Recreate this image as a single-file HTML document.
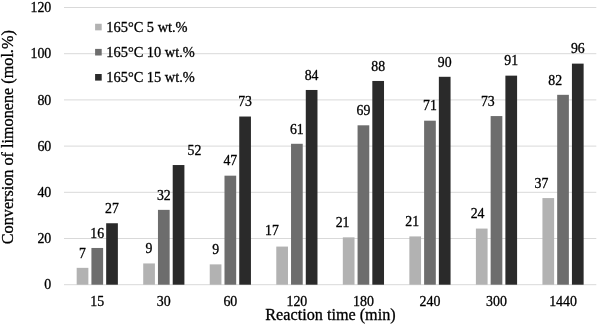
<!DOCTYPE html>
<html><head><meta charset="utf-8"><title>chart</title>
<style>
html,body{margin:0;padding:0;background:#fff;}
body{width:600px;height:324px;overflow:hidden;}
svg{display:block;filter:grayscale(1);}
text{font-family:"Liberation Serif",serif;fill:#000;stroke:#000;stroke-width:0.3px;stroke-linejoin:round;}
</style></head><body>
<svg width="600" height="324" viewBox="0 0 600 324">
<rect x="0" y="0" width="600" height="324" fill="#ffffff"/>
<line x1="64.00" x2="596.30" y1="284.70" y2="284.70" stroke="#d9d9d9" stroke-width="1"/>
<text x="51.3" y="289.40" font-size="13.9" text-anchor="end">0</text>
<line x1="64.00" x2="596.30" y1="238.50" y2="238.50" stroke="#d9d9d9" stroke-width="1"/>
<text x="51.3" y="243.20" font-size="13.9" text-anchor="end">20</text>
<line x1="64.00" x2="596.30" y1="192.30" y2="192.30" stroke="#d9d9d9" stroke-width="1"/>
<text x="51.3" y="197.00" font-size="13.9" text-anchor="end">40</text>
<line x1="64.00" x2="596.30" y1="146.10" y2="146.10" stroke="#d9d9d9" stroke-width="1"/>
<text x="51.3" y="150.80" font-size="13.9" text-anchor="end">60</text>
<line x1="64.00" x2="596.30" y1="99.90" y2="99.90" stroke="#d9d9d9" stroke-width="1"/>
<text x="51.3" y="104.60" font-size="13.9" text-anchor="end">80</text>
<line x1="64.00" x2="596.30" y1="53.70" y2="53.70" stroke="#d9d9d9" stroke-width="1"/>
<text x="51.3" y="58.40" font-size="13.9" text-anchor="end">100</text>
<line x1="64.00" x2="596.30" y1="7.50" y2="7.50" stroke="#d9d9d9" stroke-width="1"/>
<text x="51.3" y="12.20" font-size="13.9" text-anchor="end">120</text>
<rect x="76.67" y="267.84" width="11.70" height="16.86" fill="#b2b2b2"/>
<text x="82.52" y="257.64" font-size="13.8" text-anchor="middle">7</text>
<rect x="91.42" y="247.97" width="11.70" height="36.73" fill="#6d6d6d"/>
<text x="97.27" y="237.77" font-size="13.8" text-anchor="middle">16</text>
<rect x="106.17" y="223.25" width="11.70" height="61.45" fill="#2a2a2a"/>
<text x="112.02" y="213.05" font-size="13.8" text-anchor="middle">27</text>
<text x="97.27" y="306.4" font-size="13.9" text-anchor="middle">15</text>
<rect x="143.21" y="263.45" width="11.70" height="21.25" fill="#b2b2b2"/>
<text x="149.06" y="253.25" font-size="13.8" text-anchor="middle">9</text>
<rect x="157.96" y="209.86" width="11.70" height="74.84" fill="#6d6d6d"/>
<text x="163.81" y="199.66" font-size="13.8" text-anchor="middle">32</text>
<rect x="172.71" y="165.04" width="11.70" height="119.66" fill="#2a2a2a"/>
<text x="194.46" y="154.84" font-size="13.8" text-anchor="middle">52</text>
<text x="163.81" y="306.4" font-size="13.9" text-anchor="middle">30</text>
<rect x="209.74" y="264.37" width="11.70" height="20.33" fill="#b2b2b2"/>
<text x="215.59" y="254.17" font-size="13.8" text-anchor="middle">9</text>
<rect x="224.49" y="175.67" width="11.70" height="109.03" fill="#6d6d6d"/>
<text x="230.34" y="165.47" font-size="13.8" text-anchor="middle">47</text>
<rect x="239.24" y="116.53" width="11.70" height="168.17" fill="#2a2a2a"/>
<text x="245.09" y="106.33" font-size="13.8" text-anchor="middle">73</text>
<text x="230.34" y="306.4" font-size="13.9" text-anchor="middle">60</text>
<rect x="276.28" y="246.58" width="11.70" height="38.12" fill="#b2b2b2"/>
<text x="271.93" y="235.19" font-size="13.8" text-anchor="middle">17</text>
<rect x="291.03" y="143.79" width="11.70" height="140.91" fill="#6d6d6d"/>
<text x="296.88" y="133.59" font-size="13.8" text-anchor="middle">61</text>
<rect x="305.78" y="89.97" width="11.70" height="194.73" fill="#2a2a2a"/>
<text x="311.63" y="79.77" font-size="13.8" text-anchor="middle">84</text>
<text x="296.88" y="306.4" font-size="13.9" text-anchor="middle">120</text>
<rect x="342.82" y="237.34" width="11.70" height="47.35" fill="#b2b2b2"/>
<text x="342.57" y="227.15" font-size="13.8" text-anchor="middle">21</text>
<rect x="357.57" y="125.31" width="11.70" height="159.39" fill="#6d6d6d"/>
<text x="363.42" y="115.11" font-size="13.8" text-anchor="middle">69</text>
<rect x="372.32" y="80.96" width="11.70" height="203.74" fill="#2a2a2a"/>
<text x="378.17" y="70.76" font-size="13.8" text-anchor="middle">88</text>
<text x="363.42" y="306.4" font-size="13.9" text-anchor="middle">180</text>
<rect x="409.36" y="236.42" width="11.70" height="48.28" fill="#b2b2b2"/>
<text x="412.21" y="226.22" font-size="13.8" text-anchor="middle">21</text>
<rect x="424.11" y="120.69" width="11.70" height="164.01" fill="#6d6d6d"/>
<text x="429.96" y="110.49" font-size="13.8" text-anchor="middle">71</text>
<rect x="438.86" y="76.80" width="11.70" height="207.90" fill="#2a2a2a"/>
<text x="444.71" y="66.60" font-size="13.8" text-anchor="middle">90</text>
<text x="429.96" y="306.4" font-size="13.9" text-anchor="middle">240</text>
<rect x="475.89" y="228.57" width="11.70" height="56.13" fill="#b2b2b2"/>
<text x="477.54" y="218.37" font-size="13.8" text-anchor="middle">24</text>
<rect x="490.64" y="116.07" width="11.70" height="168.63" fill="#6d6d6d"/>
<text x="487.79" y="105.87" font-size="13.8" text-anchor="middle">73</text>
<rect x="505.39" y="75.65" width="11.70" height="209.05" fill="#2a2a2a"/>
<text x="511.24" y="65.45" font-size="13.8" text-anchor="middle">91</text>
<text x="496.49" y="306.4" font-size="13.9" text-anchor="middle">300</text>
<rect x="542.43" y="198.07" width="11.70" height="86.62" fill="#b2b2b2"/>
<text x="541.48" y="187.88" font-size="13.8" text-anchor="middle">37</text>
<rect x="557.18" y="94.82" width="11.70" height="189.88" fill="#6d6d6d"/>
<text x="555.23" y="84.62" font-size="13.8" text-anchor="middle">82</text>
<rect x="571.93" y="63.63" width="11.70" height="221.07" fill="#2a2a2a"/>
<text x="577.78" y="53.43" font-size="13.8" text-anchor="middle">96</text>
<text x="563.03" y="306.4" font-size="13.9" text-anchor="middle">1440</text>
<rect x="95.1" y="23.75" width="6.6" height="6.6" fill="#b2b2b2"/>
<text x="106.3" y="31.65" font-size="14.4">165°C 5 wt.%</text>
<rect x="95.1" y="48.90" width="6.6" height="6.6" fill="#6d6d6d"/>
<text x="106.3" y="56.80" font-size="14.4">165°C 10 wt.%</text>
<rect x="95.1" y="74.00" width="6.6" height="6.6" fill="#2a2a2a"/>
<text x="106.3" y="81.90" font-size="14.4">165°C 15 wt.%</text>
<text x="330.5" y="319.5" font-size="16.2" text-anchor="middle">Reaction time (min)</text>
<text transform="translate(12.7,137.2) rotate(-90)" font-size="16.2" text-anchor="middle">Conversion of limonene (mol.%)</text>
</svg></body></html>
